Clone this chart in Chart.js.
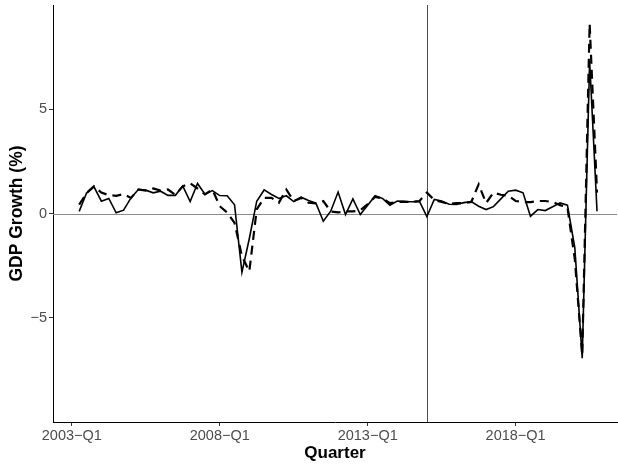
<!DOCTYPE html>
<html>
<head>
<meta charset="utf-8">
<script src="https://cdn.jsdelivr.net/npm/chart.js@4/dist/chart.umd.min.js"></script>
<style>
  html, body { margin: 0; padding: 0; background: #ffffff; }
  canvas { display: block; }
</style>
</head>
<body>
<canvas id="gdp" width="618" height="464"></canvas>
<script>
// Quarters covered by both series: 2003-Q2 .. 2020-Q4
const quarters = [];
for (let y = 2003; y <= 2020; y++) {
  for (let q = 1; q <= 4; q++) {
    if (y === 2003 && q === 1) continue;
    quarters.push(y + '-Q' + q);
  }
}

// Quarter-on-quarter GDP growth, % (solid line)
const gdpGrowth = [
  0.10, 0.98, 1.28, 0.59, 0.72, 0.03, 0.16, 0.75, 1.15, 1.12,
  0.99, 1.07, 0.87, 0.87, 1.32, 0.57, 1.44, 0.93, 1.10, 0.86,
  0.85, 0.42, -2.82, -1.20, 0.59, 1.13, 0.91, 0.72, 0.85, 0.57,
  0.78, 0.62, 0.50, -0.37, 0.11, 1.03, -0.05, 0.70, -0.05, 0.40,
  0.85, 0.72, 0.40, 0.60, 0.57, 0.56, 0.58, -0.15, 0.67, 0.60,
  0.44, 0.43, 0.52, 0.57, 0.35, 0.19, 0.33, 0.70, 1.07, 1.12,
  0.99, -0.13, 0.19, 0.14, 0.32, 0.51, 0.40, -1.65, -6.94, 7.32,
  0.11
];

// Model estimate of the same growth rate, % (dashed line)
const gdpEstimate = [
  0.43, 0.98, 1.31, 1.00, 0.88, 0.85, 0.93, 0.75, 1.15, 1.10,
  1.20, 1.10, 1.15, 0.90, 1.30, 1.45, 1.20, 0.92, 1.15, 0.35,
  0.05, -0.45, -2.05, -2.77, 0.20, 0.75, 0.75, 0.52, 1.15, 0.60,
  0.75, 0.52, 0.48, 0.60, 0.10, 0.05, 0.10, 0.10, 0.15, 0.45,
  0.80, 0.72, 0.50, 0.55, 0.57, 0.55, 0.60, 1.00, 0.65, 0.55,
  0.45, 0.50, 0.50, 0.55, 1.40, 0.50, 1.00, 0.90, 0.85, 0.60,
  0.55, 0.55, 0.60, 0.60, 0.55, 0.40, 0.30, -2.20, -6.80, 9.10,
  1.00
];

const xTickLabels = ['2003-Q1', '2008-Q1', '2013-Q1', '2018-Q1'];
const yTickValues = [-5, 0, 5];
const markerQuarter = '2015-Q1';

// Position of a quarter on the x axis, counted from 2003-Q1
function quarterIndex(label) {
  const [y, q] = label.split('-Q').map(Number);
  return (y - 2003) * 4 + (q - 1);
}
const MINUS = '\u2212';
const fmt = s => s.replace('-', MINUS);

const toPoints = vals => vals.map((v, k) => ({ x: quarterIndex(quarters[k]), y: v }));

const FONT = "'Liberation Sans', Arial, Helvetica, sans-serif";

// Grey zero line (under the series) and red marker line, placed through the chart scales
const referenceLines = {
  id: 'referenceLines',
  beforeDatasetsDraw(chart) {
    const { ctx, chartArea: a, scales: { x, y } } = chart;
    ctx.save();
    ctx.globalAlpha = 1;
    ctx.globalCompositeOperation = 'source-over';
    const y0 = Math.round(y.getPixelForValue(0));
    ctx.fillStyle = '#8c8c8c';
    ctx.fillRect(a.left, y0, a.right - a.left, 1);
    const xm = Math.round(x.getPixelForValue(quarterIndex(markerQuarter)));
    ctx.fillStyle = '#ff0000';
    ctx.fillRect(xm, a.top, 1, a.bottom - a.top);
    ctx.restore();
  }
};

new Chart(document.getElementById('gdp'), {
  type: 'line',
  data: {
    datasets: [
      {
        data: toPoints(gdpEstimate),
        borderColor: '#000000',
        borderWidth: 2.2,
        borderDash: [9, 6],
        pointRadius: 0,
        tension: 0,
        fill: false
      },
      {
        data: toPoints(gdpGrowth),
        borderColor: '#000000',
        borderWidth: 1.6,
        pointRadius: 0,
        tension: 0,
        fill: false
      }
    ]
  },
  options: {
    responsive: false,
    animation: false,
    events: [],
    layout: { padding: { top: 5, right: 1, left: 0, bottom: 0 } },
    plugins: { legend: { display: false }, tooltip: { enabled: false } },
    scales: {
      x: {
        type: 'linear',
        min: -2.54,
        max: 73.7,
        afterBuildTicks: s => { s.ticks = xTickLabels.map(t => ({ value: quarterIndex(t) })); },
        afterFit: s => { s.height = 42; s.paddingLeft = 0; s.paddingRight = 0; },
        ticks: {
          autoSkip: false,
          maxRotation: 0,
          padding: 1,
          color: '#4d4d4d',
          font: { family: FONT, size: 14.5 },
          callback: v => {
            const t = xTickLabels.find(l => quarterIndex(l) === v);
            return t ? fmt(t) : '';
          }
        },
        grid: { drawOnChartArea: false, tickLength: 4, color: '#333333', lineWidth: 1 },
        border: { display: true, color: '#000000', width: 1 },
        title: {
          display: true,
          text: 'Quarter',
          color: '#000000',
          font: { family: FONT, size: 17, weight: 'bold' },
          padding: { top: 0, bottom: 0 }
        }
      },
      y: {
        type: 'linear',
        min: -10,
        max: 10,
        afterBuildTicks: s => { s.ticks = yTickValues.map(v => ({ value: v })); },
        afterFit: s => { s.width = 53; s.paddingTop = 0; s.paddingBottom = 0; },
        ticks: {
          padding: 2,
          color: '#4d4d4d',
          font: { family: FONT, size: 14.5 },
          callback: v => (v < 0 ? MINUS + Math.abs(v) : String(v))
        },
        grid: { drawOnChartArea: false, tickLength: 4, color: '#333333', lineWidth: 1 },
        border: { display: true, color: '#000000', width: 1 },
        title: {
          display: true,
          text: 'GDP Growth (%)',
          color: '#000000',
          font: { family: FONT, size: 17.5, weight: 'bold' },
          padding: { top: 7, bottom: 0 }
        }
      }
    }
  },
  plugins: [referenceLines]
});
</script>
</body>
</html>
